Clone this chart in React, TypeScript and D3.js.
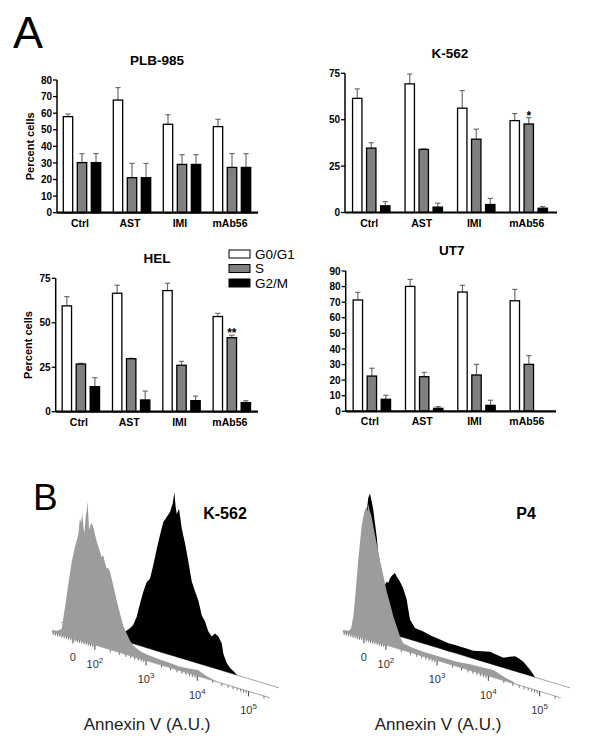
import React from "react";
import * as d3 from "d3";

const FONT = "Liberation Sans, Arial, Helvetica, sans-serif";

// ---- panel A data ----
const treatments = ["Ctrl", "AST", "IMI", "mAb56"];
const phases = ["G0/G1", "S", "G2/M"];
const phaseFill = ["#ffffff", "#808080", "#000000"];

const plbG0 = [57.9, 67.9, 53.3, 51.9];
const plbG0Err = [1.6, 7.5, 5.8, 4.4];
const plbS = [30.2, 21.1, 29.1, 27.3];
const plbSErr = [5.4, 8.6, 5.9, 8.3];
const plbG2 = [30.2, 21.1, 29.1, 27.3];
const plbG2Err = [5.4, 8.6, 5.9, 8.3];

const k562G0 = [61.5, 69.3, 56.2, 49.5];
const k562G0Err = [5.1, 5.3, 9.5, 3.8];
const k562S = [34.7, 34.0, 39.5, 47.7];
const k562SErr = [2.9, 0.3, 5.4, 3.4];
const k562G2 = [3.6, 2.9, 4.3, 2.3];
const k562G2Err = [2.3, 2.1, 3.3, 0.9];

const helG0 = [59.5, 66.6, 68.1, 53.5];
const helG0Err = [5.2, 4.5, 4.1, 1.8];
const helS = [26.8, 29.8, 26.1, 41.6];
const helSErr = [0.4, 0.2, 2.2, 1.4];
const helG2 = [14.1, 6.6, 6.2, 5.1];
const helG2Err = [5.0, 5.0, 2.6, 1.1];

const ut7G0 = [71.4, 80.1, 76.5, 70.9];
const ut7G0Err = [4.9, 4.5, 4.3, 7.3];
const ut7S = [22.6, 22.2, 23.3, 30.1];
const ut7SErr = [5.0, 2.8, 6.8, 5.6];
const ut7G2 = [7.7, 1.9, 3.8, 0];
const ut7G2Err = [2.6, 1.1, 3.3, 0];

const ticks80 = [0, 10, 20, 30, 40, 50, 60, 70, 80];
const ticks75 = [0, 25, 50, 75];
const ticks90 = [0, 10, 20, 30, 40, 50, 60, 70, 80, 90];

// ---- panel B data: [display channel (decades), event count] ----
const k562Control: [number, number][] = [
  [-0.41, 2], [-0.3, 3], [-0.22, 6], [-0.19, 17], [-0.157, 28], [-0.092, 52], [-0.025, 76],
  [0.039, 92], [0.104, 105], [0.137, 122], [0.16, 118], [0.182, 128], [0.205, 115], [0.222, 108],
  [0.249, 125], [0.27, 132], [0.288, 141], [0.305, 124], [0.32, 113], [0.345, 119], [0.367, 121],
  [0.406, 116], [0.435, 110], [0.465, 104], [0.5, 99], [0.529, 95], [0.56, 90], [0.594, 92],
  [0.63, 85], [0.661, 80], [0.69, 81], [0.725, 78], [0.76, 71], [0.79, 65], [0.825, 58],
  [0.857, 51], [0.89, 45], [0.922, 39], [0.955, 33], [0.986, 28], [1.02, 24], [1.053, 21],
  [1.118, 15], [1.182, 11], [1.249, 9], [1.35, 7], [1.5, 6], [1.7, 5], [1.9, 4.5], [2.1, 4],
  [2.3, 5], [2.45, 6], [2.6, 3], [2.75, 1], [2.85, 0],
];
const k562Annexin: [number, number][] = [
  [0.3, 0], [0.5, 2], [0.7, 5], [0.843, 9.6], [0.941, 14.5], [1.006, 19], [1.073, 28],
  [1.137, 42], [1.202, 55], [1.269, 66], [1.333, 70], [1.398, 85], [1.465, 102], [1.529, 117],
  [1.594, 131], [1.661, 137], [1.725, 143], [1.778, 152], [1.81, 164], [1.835, 150],
  [1.857, 143], [1.902, 149], [1.955, 130], [2.02, 116], [2.084, 99], [2.151, 80], [2.216, 71],
  [2.28, 63], [2.347, 49], [2.412, 44], [2.476, 35], [2.543, 31], [2.608, 35], [2.673, 33],
  [2.739, 27], [2.771, 17], [2.837, 9], [2.902, 5], [2.967, 3], [3.039, 0],
];
const p4Control: [number, number][] = [
  [-0.41, 2], [-0.3, 3], [-0.26, 5], [-0.242, 8], [-0.209, 18], [-0.176, 36], [-0.143, 56],
  [-0.111, 77], [-0.078, 94], [-0.046, 111], [-0.013, 121], [0.02, 129], [0.052, 132],
  [0.07, 128], [0.085, 136], [0.11, 130], [0.15, 124], [0.183, 115], [0.248, 99], [0.314, 83],
  [0.379, 69], [0.444, 54], [0.51, 43], [0.575, 31], [0.641, 22], [0.706, 13], [0.771, 7],
  [0.902, 5.5], [1.163, 4.6], [1.49, 4.6], [1.818, 4.6], [2.078, 6], [2.406, 7], [2.535, 7.4],
  [2.798, 3], [2.927, 1.7], [2.99, 0],
];
const p4Annexin: [number, number][] = [
  [-0.4, 0], [-0.3, 8], [-0.2, 40], [-0.15, 85], [-0.12, 115], [-0.092, 129], [-0.059, 134],
  [-0.025, 127], [0.006, 119], [0.039, 106], [0.073, 93], [0.104, 77], [0.137, 67], [0.17, 61],
  [0.202, 52], [0.235, 47], [0.269, 51], [0.3, 50], [0.333, 55], [0.365, 58], [0.398, 60],
  [0.431, 62], [0.465, 59], [0.529, 55], [0.594, 49], [0.661, 39], [0.725, 20], [0.824, 13],
  [0.986, 12], [1.15, 10], [1.314, 9], [1.48, 8], [1.641, 8], [1.8, 8], [1.967, 8], [2.13, 10],
  [2.294, 12], [2.42, 11], [2.555, 10], [2.68, 13], [2.784, 15], [2.86, 14], [2.947, 12],
  [3.078, 6], [3.176, 0],
];

const majorTicks = [0, 100, 1000, 10000, 100000];

interface BarCfg {
  title: string;
  titleX: number;
  titleY: number;
  left: number;
  right: number;
  axisEnd: number;
  top: number;
  bottom: number;
  yMax: number;
  ticks: number[];
  series: number[][];
  errors: number[][];
  yLabel: boolean;
  stars?: { group: number; phase: number; text: string };
  legend?: boolean;
}

const barPanels: BarCfg[] = [
  {
    title: "PLB-985", titleX: 157, titleY: 65, left: 57, right: 257, axisEnd: 258,
    top: 80, bottom: 212.7, yMax: 80, ticks: ticks80,
    series: [plbG0, plbS, plbG2], errors: [plbG0Err, plbSErr, plbG2Err], yLabel: true,
  },
  {
    title: "K-562", titleX: 450, titleY: 57.5, left: 345, right: 555, axisEnd: 557,
    top: 73.3, bottom: 212.5, yMax: 75, ticks: ticks75,
    series: [k562G0, k562S, k562G2], errors: [k562G0Err, k562SErr, k562G2Err], yLabel: false,
    stars: { group: 3, phase: 1, text: "*" },
  },
  {
    title: "HEL", titleX: 157, titleY: 262.7, left: 55.7, right: 257, axisEnd: 258,
    top: 278.3, bottom: 411.7, yMax: 75, ticks: ticks75,
    series: [helG0, helS, helG2], errors: [helG0Err, helSErr, helG2Err], yLabel: true,
    stars: { group: 3, phase: 1, text: "**" }, legend: true,
  },
  {
    title: "UT7", titleX: 451.7, titleY: 255, left: 345.7, right: 555, axisEnd: 556,
    top: 271, bottom: 411.3, yMax: 90, ticks: ticks90,
    series: [ut7G0, ut7S, ut7G2], errors: [ut7G0Err, ut7SErr, ut7G2Err], yLabel: false,
  },
];

function BarPanel({ cfg }: { cfg: BarCfg }) {
  const x0 = d3.scaleBand<string>().domain(treatments).range([cfg.left, cfg.right]);
  const x1 = d3.scaleBand<string>().domain(phases).range([-18.7, 18.7]).paddingInner(0.33);
  const y = d3.scaleLinear().domain([0, cfg.yMax]).range([cfg.bottom, cfg.top]);
  const half = x0.bandwidth() / 2;
  const bw = x1.bandwidth();

  return (
    <g fontFamily={FONT}>
      <text x={cfg.titleX} y={cfg.titleY} textAnchor="middle" fontWeight="bold" fontSize={13.5}>
        {cfg.title}
      </text>

      {/* bars + error bars */}
      {treatments.map((t, gi) => {
        const c = (x0(t) ?? 0) + half;
        return phases.map((p, pi) => {
          const v = cfg.series[pi][gi];
          const e = cfg.errors[pi][gi];
          if (v <= 0) return null;
          const bx = c + (x1(p) ?? 0);
          const cx = bx + bw / 2;
          return (
            <g key={t + p}>
              {e > 0 && (
                <g stroke="#6e6e6e" strokeWidth={1.2}>
                  <line x1={cx} x2={cx} y1={y(v)} y2={y(v + e)} />
                  <line x1={cx - 2.6} x2={cx + 2.6} y1={y(v + e)} y2={y(v + e)} />
                </g>
              )}
              <rect x={bx} y={y(v)} width={bw} height={y(0) - y(v)}
                fill={phaseFill[pi]} stroke="#000" strokeWidth={1.3} />
            </g>
          );
        });
      })}

      {cfg.stars && (() => {
        const s = cfg.stars!;
        const c = (x0(treatments[s.group]) ?? 0) + half + (x1(phases[s.phase]) ?? 0) + bw / 2;
        const top = cfg.series[s.phase][s.group] + cfg.errors[s.phase][s.group];
        return (
          <text x={c} y={y(top) + 2} textAnchor="middle" fontSize={12} fontWeight="bold">
            {s.text}
          </text>
        );
      })()}

      {/* y axis */}
      <line x1={cfg.left} x2={cfg.left} y1={y(0)} y2={y(cfg.yMax)} stroke="#000" strokeWidth={1.5} />
      {cfg.ticks.map((tk) => (
        <g key={tk}>
          <line x1={cfg.left - 4} x2={cfg.left} y1={y(tk)} y2={y(tk)} stroke="#000" strokeWidth={1.3} />
          <text x={cfg.left - 5} y={y(tk)} dy="0.36em" textAnchor="end" fontSize={10} fontWeight="bold">
            {tk}
          </text>
        </g>
      ))}
      {/* x axis */}
      <line x1={cfg.left} x2={cfg.axisEnd} y1={y(0)} y2={y(0)} stroke="#000" strokeWidth={2.2} />
      {treatments.map((t) => (
        <text key={t} x={(x0(t) ?? 0) + half - 2} y={y(0) + 14} textAnchor="middle"
          fontSize={10.5} fontWeight="bold">
          {t}
        </text>
      ))}

      {cfg.yLabel && (
        <text transform={`translate(${cfg.left - 23.5},${(cfg.top + cfg.bottom) / 2}) rotate(-90)`}
          textAnchor="middle" fontSize={11} fontWeight="bold">
          Percent cells
        </text>
      )}

      {cfg.legend && phases.map((p, i) => (
        <g key={p}>
          <rect x={229} y={250 + i * 14.5} width={21} height={8} fill={phaseFill[i]}
            stroke="#000" strokeWidth={1} />
          <text x={255} y={258.5 + i * 14.5} fontSize={13.5}>{p}</text>
        </g>
      ))}
    </g>
  );
}

// ---- panel B: offset overlay histograms ----
const linPart = d3.scaleLinear().domain([0, 100]).range([0, 0.43]);
const logPart = d3.scaleLog().domain([100, 100000]).range([0.43, 3.44]);
const channel = (v: number) => (v < 100 ? linPart(v) : logPart(v));

const minorTicks = [
  ...d3.range(-90, 100, 10).filter((v) => v !== 0),
  ...[100, 1000, 10000].flatMap((d) => d3.range(2, 10).map((k) => k * d)),
  200000,
];

const SLOPE = 0.302;
const BACK_DX = 9;
const BACK_DY = -10;

function Histogram({ ox, oy, label, labelX, front, back }: {
  ox: number; oy: number; label: string; labelX: number;
  front: [number, number][]; back: [number, number][];
}) {
  const u = d3.scaleLinear().domain([-0.41, 3.86]).range([0, 218]);
  const h = d3.scaleLinear().domain([0, 170]).range([0, 170]);

  const makeArea = (dx: number, dy: number) =>
    d3.area<[number, number]>()
      .x((d) => ox + dx + u(d[0]))
      .y0((d) => oy + dy + u(d[0]) * SLOPE)
      .y1((d) => oy + dy + u(d[0]) * SLOPE - h(d[1]));

  const axisPt = (c: number, dx = 0, dy = 0): [number, number] =>
    [ox + dx + u(c), oy + dy + u(c) * SLOPE];

  const [bx1, by1] = axisPt(-0.41, BACK_DX, BACK_DY);
  const [bx2, by2] = axisPt(3.86, BACK_DX, BACK_DY);
  const [fx1, fy1] = axisPt(-0.41);
  const [fx2, fy2] = axisPt(3.86);

  return (
    <g fontFamily={FONT}>
      {/* back (annexin) */}
      <line x1={bx1} y1={by1} x2={bx2} y2={by2} stroke="#9a9a9a" strokeWidth={0.9} />
      <path d={makeArea(BACK_DX, BACK_DY)(back) ?? ""} fill="#000" />
      {/* front (control) */}
      <path d={makeArea(0, 0)(front) ?? ""} fill="#9c9c9c" />
      <line x1={fx1} y1={fy1} x2={fx2} y2={fy2} stroke="#a8a8a8" strokeWidth={1} />
      {minorTicks.map((v) => {
        const [x, y] = axisPt(channel(v));
        return <line key={v} x1={x} x2={x} y1={y} y2={y + 2.6} stroke="#555" strokeWidth={0.8} />;
      })}
      {majorTicks.map((v) => {
        const [x, y] = axisPt(channel(v));
        return (
          <g key={v}>
            <line x1={x} x2={x} y1={y} y2={y + 5} stroke="#444" strokeWidth={1} />
            <text x={x} y={y + 23} textAnchor="middle" fontSize={11} fill="#333">
              {v === 0 ? "0" : (
                <>
                  <tspan>10</tspan>
                  <tspan dy={-5} fontSize={8}>{Math.round(Math.log10(v))}</tspan>
                </>
              )}
            </text>
          </g>
        );
      })}
      <text x={ox + 95} y={730} textAnchor="middle" fontSize={17} fill="#222">Annexin V (A.U.)</text>
      <text x={labelX} y={519} textAnchor="middle" fontSize={16} fontWeight="bold">{label}</text>
    </g>
  );
}

export default function App() {
  return (
    <div style={{ position: "absolute", left: 0, top: 0 }}>
      <svg width={600} height={749} viewBox="0 0 600 749" style={{ display: "block", background: "#fff" }}>
        <text x={13} y={48} fontFamily={FONT} fontSize={45}>A</text>
        {barPanels.map((cfg) => <BarPanel key={cfg.title} cfg={cfg} />)}
        <text x={33} y={509.5} fontFamily={FONT} fontSize={37}>B</text>
        <Histogram ox={52} oy={632} label="K-562" labelX={225} front={k562Control} back={k562Annexin} />
        <Histogram ox={343} oy={632} label="P4" labelX={526} front={p4Control} back={p4Annexin} />
      </svg>
    </div>
  );
}
